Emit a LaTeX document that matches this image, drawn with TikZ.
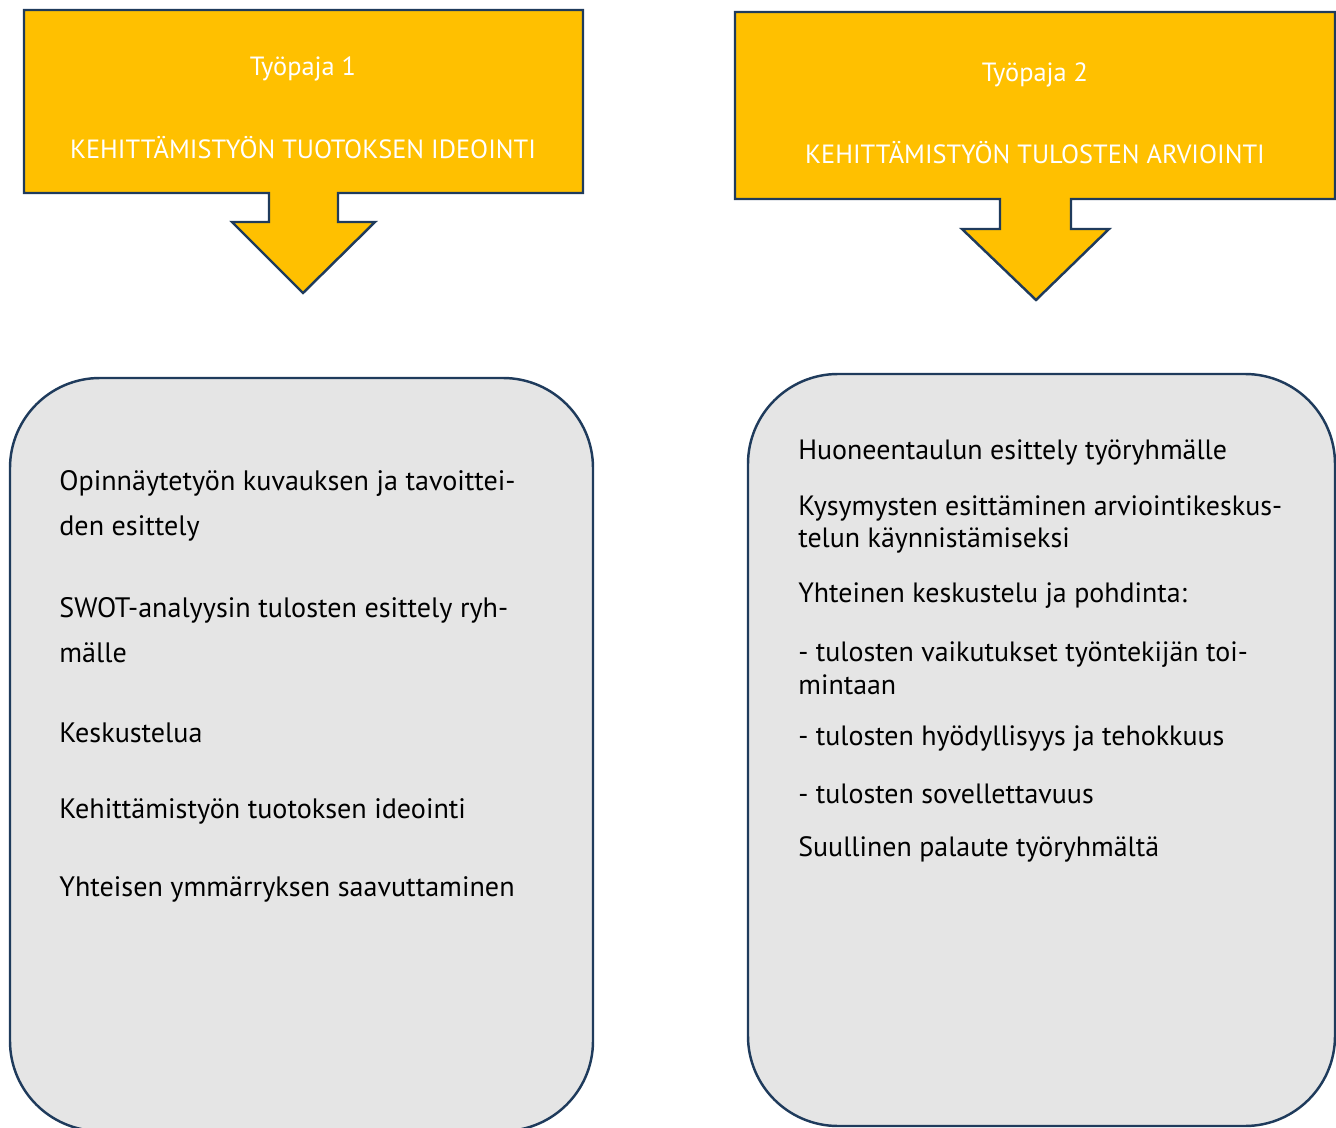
\documentclass[tikz,border=0pt]{standalone}
\usepackage{fontspec}
\setmainfont{PT Sans}
\usepackage{xcolor}
\definecolor{calloutyellow}{HTML}{FFC000}
\definecolor{edgeblue}{HTML}{1F3B5C}
\definecolor{boxgrey}{HTML}{E5E5E5}
\usetikzlibrary{positioning}

\tikzset{
    callout/.style={fill=calloutyellow, draw=edgeblue, line width=1.4pt, line join=miter},
    infobox/.style={fill=boxgrey, draw=edgeblue, line width=1.4pt, rounded corners=1.8cm},
    headtext/.style={text=white, font=\fontsize{15}{18}\selectfont, inner sep=0pt},
    leftitem/.style={anchor=west, align=left, inner sep=0pt, font=\fontsize{16}{26}\selectfont},
    rightitem/.style={anchor=west, align=left, inner sep=0pt, font=\fontsize{15.9}{18.7}\selectfont}
}

\begin{document}
\begin{tikzpicture}[x=0.02cm, y=-0.02cm]
    \useasboundingbox (0,0) rectangle (1336,1128);
    \clip (0,0) rectangle (1336,1128);

    % workshop 1 callout
    \draw[callout] (24,10) -- (583,10) -- (583,193) -- (338,193) -- (338,222) -- (375,222)
        -- (303,293) -- (232,222) -- (269,222) -- (269,193) -- (24,193) -- cycle;
    \node (ws1) [headtext] at (303,69) {Työpaja 1};
    \node (ws1title) [headtext] at (303,148) {KEHITTÄMISTYÖN TUOTOKSEN IDEOINTI};

    % workshop 2 callout
    \draw[callout] (735,12) -- (1335,12) -- (1335,199) -- (1071,199) -- (1071,229) -- (1109,229)
        -- (1036,300) -- (962,229) -- (1000,229) -- (1000,199) -- (735,199) -- cycle;
    \node (ws2) [headtext] at (1035,75) {Työpaja 2};
    \node (ws2title) [headtext] at (1035,153) {KEHITTÄMISTYÖN TULOSTEN ARVIOINTI};

    % content boxes
    \draw[infobox] (10,378) rectangle (593,1131);
    \draw[infobox] (748,374) rectangle (1335,1126);

    \node (desc) [leftitem] at (59,506) {Opinnäytetyön kuvauksen ja tavoittei-\\den esittely};
    \node (swot) [leftitem] at (59,630) {SWOT-analyysin tulosten esittely ryh-\\mälle};
    \node (talk) [leftitem] at (59,733) {Keskustelua};
    \node (idea) [leftitem] at (59,811) {Kehittämistyön tuotoksen ideointi};
    \node (common) [leftitem] at (59,889) {Yhteisen ymmärryksen saavuttaminen};

    \node (board) [rightitem] at (798,452) {Huoneentaulun esittely työryhmälle};
    \node (questions) [rightitem] at (798,524.5) {Kysymysten esittäminen arviointikeskus-\\telun käynnistämiseksi};
    \node (joint) [rightitem] at (798,596) {Yhteinen keskustelu ja pohdinta:};
    \node (effects) [rightitem] at (798,668) {- tulosten vaikutukset työntekijän toi-\\mintaan};
    \node (useful) [rightitem] at (798,739) {- tulosten hyödyllisyys ja tehokkuus};
    \node (apply) [rightitem] at (798,794) {- tulosten sovellettavuus};
    \node (feedback) [rightitem] at (798,849) {Suullinen palaute työryhmältä};
\end{tikzpicture}
\end{document}
